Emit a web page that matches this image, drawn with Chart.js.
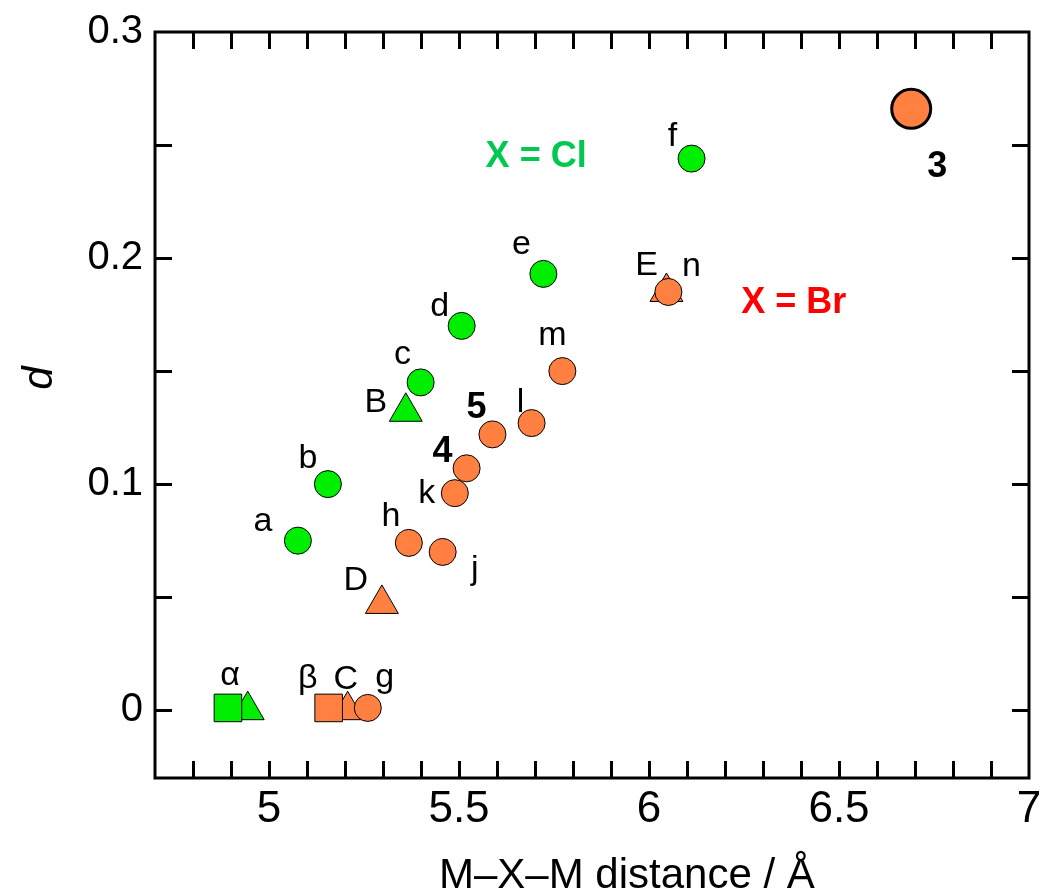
<!DOCTYPE html>
<html>
<head>
<meta charset="utf-8">
<script src="https://cdn.jsdelivr.net/npm/chart.js@4.4.1/dist/chart.umd.min.js"></script>
<style>
  html, body { margin: 0; padding: 0; background: #fff; }
  #wrap { width: 1040px; height: 892px; }
</style>
</head>
<body>
<div id="wrap"><canvas id="dChart" width="1040" height="892"></canvas></div>
<script>
// X = Cl compounds
const clCircleNames = ['a', 'b', 'c', 'd', 'e', 'f'];
const clCircleX = [5.076, 5.155, 5.399, 5.507, 5.722, 6.112];
const clCircleY = [0.075, 0.100, 0.145, 0.170, 0.193, 0.244];
const clTriangleNames = ['', 'B'];
const clTriangleX = [4.944, 5.360];
const clTriangleY = [0.000, 0.132];
const clSquareNames = ['α'];
const clSquareX = [4.892];
const clSquareY = [0.001];

// X = Br compounds
const brCircleNames = ['g', 'h', 'j', 'k', '4', '5', 'l', 'm', 'n'];
const brCircleX = [5.260, 5.368, 5.457, 5.489, 5.520, 5.588, 5.691, 5.772, 6.051];
const brCircleY = [0.001, 0.074, 0.070, 0.096, 0.107, 0.122, 0.127, 0.150, 0.185];
const brTriangleNames = ['C', 'D', 'E'];
const brTriangleX = [5.207, 5.297, 6.046];
const brTriangleY = [0.000, 0.047, 0.185];
const brSquareNames = ['β'];
const brSquareX = [5.157];
const brSquareY = [0.001];
const cmpd3Names = ['3'];
const cmpd3X = [6.690];
const cmpd3Y = [0.266];

// axis tick labels
const xTickLabels = ['5', '5.5', '6', '6.5', '7'];
const yTickLabels = ['0', '0.1', '0.2', '0.3'];

// free notes
const noteTexts = ['X = Cl', 'X = Br'];
const noteX = [5.703, 6.381];
const noteY = [0.2403, 0.1757];

// label layout: pixel offset of text baseline from the marker centre
const labelOffsets = {
    a: [-35, -10], b: [-20, -16], c: [-18, -18], d: [-22, -10], e: [-22, -20], f: [-19, -13],
    B: [-30, 0], 'α': [2, -23],
    g: [17, -21], h: [-18, -17], j: [32, 27], k: [-28, 10], '4': [-24, -6], '5': [-16, -16],
    l: [-11, -11], m: [-10, -26], n: [23, -16], C: [-2, -21], D: [-26, -14], E: [-20, -17],
    'β': [-21, -20], '3': [26, 68]
};
const boldLabels = ['3', '4', '5'];

const GREEN = '#00ee00';
const ORANGE = '#ff8040';
const FONT = "'Liberation Sans', Arial, sans-serif";

function pts(xs, ys) {
    return xs.map((x, i) => ({ x: x, y: ys[i] }));
}

function set(names, xs, ys, style, color, radius, bw) {
    return {
        names: names,
        data: pts(xs, ys),
        showLine: false,
        pointStyle: style,
        pointRadius: radius,
        pointHoverRadius: radius,
        pointBackgroundColor: color,
        pointBorderColor: '#000',
        pointBorderWidth: bw || 1,
        pointHoverBorderWidth: bw || 1
    };
}

// first dataset is drawn on top
const datasets = [
    set(cmpd3Names, cmpd3X, cmpd3Y, 'circle', ORANGE, 19.5, 3),
    set(brCircleNames, brCircleX, brCircleY, 'circle', ORANGE, 13.5),
    set(clCircleNames, clCircleX, clCircleY, 'circle', GREEN, 13.5),
    set(brSquareNames, brSquareX, brSquareY, 'rect', ORANGE, 19.5),
    set(clSquareNames, clSquareX, clSquareY, 'rect', GREEN, 19.5),
    set(brTriangleNames, brTriangleX, brTriangleY, 'triangle', ORANGE, 19),
    set(clTriangleNames, clTriangleX, clTriangleY, 'triangle', GREEN, 19)
];

function near(v, step) {
    return Math.abs(v / step - Math.round(v / step)) < 1e-6;
}

const framePlugin = {
    id: 'framePlugin',
    afterDatasetsDraw(chart) {
        const { ctx, chartArea: a, scales: { x, y } } = chart;
        ctx.save();

        // point labels
        ctx.fillStyle = '#000';
        ctx.textAlign = 'center';
        ctx.textBaseline = 'alphabetic';
        chart.data.datasets.forEach((ds, i) => {
            const meta = chart.getDatasetMeta(i);
            ds.names.forEach((name, j) => {
                if (!name) return;
                const el = meta.data[j];
                const off = labelOffsets[name] || [0, -20];
                const bold = boldLabels.includes(name);
                ctx.font = (bold ? 'bold 36px ' : '34px ') + FONT;
                ctx.fillText(name, el.x + off[0], el.y + off[1]);
            });
        });

        // notes
        ctx.font = 'bold 36px ' + FONT;
        noteTexts.forEach((t, i) => {
            ctx.fillStyle = i === 0 ? '#00c850' : '#ff0000';
            ctx.fillText(t, x.getPixelForValue(noteX[i]), y.getPixelForValue(noteY[i]));
        });

        // frame + inward ticks on all four sides
        ctx.strokeStyle = '#000';
        ctx.lineWidth = 3;
        ctx.strokeRect(a.left, a.top, a.right - a.left, a.bottom - a.top);
        const len = 17;
        ctx.beginPath();
        x.ticks.forEach(t => {
            if (!near(t.value, 0.1)) return;
            const px = Math.round(x.getPixelForValue(t.value)) + 0.5;
            if (px <= a.left + 2 || px >= a.right - 2) return;
            ctx.moveTo(px, a.bottom); ctx.lineTo(px, a.bottom - len);
            ctx.moveTo(px, a.top); ctx.lineTo(px, a.top + len);
        });
        y.ticks.forEach(t => {
            if (!near(t.value, 0.05)) return;
            const py = Math.round(y.getPixelForValue(t.value)) + 0.5;
            if (py <= a.top + 2 || py >= a.bottom - 2) return;
            ctx.moveTo(a.left, py); ctx.lineTo(a.left + len, py);
            ctx.moveTo(a.right, py); ctx.lineTo(a.right - len, py);
        });
        ctx.stroke();
        ctx.restore();
    },
    afterDraw(chart) {
        const ctx = chart.ctx;
        ctx.save();
        ctx.fillStyle = '#000';
        ctx.textBaseline = 'alphabetic';
        ctx.font = '42px ' + FONT;
        ctx.textAlign = 'left';
        ctx.fillText('M–X–M distance / Å', 439, 888);
        ctx.translate(52, 378);
        ctx.rotate(-Math.PI / 2);
        ctx.textAlign = 'center';
        ctx.font = 'italic 42px ' + FONT;
        ctx.fillText('d', 0, 0);
        ctx.restore();
    }
};

new Chart('dChart', {
    type: 'scatter',
    data: { datasets: datasets },
    options: {
        responsive: false,
        animation: false,
        events: [],
        layout: { autoPadding: false, padding: { top: 32, right: 11, left: 0, bottom: 0 } },
        plugins: {
            legend: { display: false },
            tooltip: { enabled: false }
        },
        scales: {
            x: {
                type: 'linear',
                min: 4.7,
                max: 7.0,
                grid: { display: false, drawTicks: false },
                border: { display: false },
                ticks: {
                    stepSize: 0.1,
                    autoSkip: false,
                    maxRotation: 0,
                    minRotation: 0,
                    padding: 5,
                    color: '#000',
                    font: { family: FONT, size: 44 },
                    callback: (v) => {
                        const s = String(+(+v).toFixed(2));
                        return xTickLabels.includes(s) ? s : '';
                    }
                },
                afterFit: (s) => {
                    s.height = 114;
                    s.paddingLeft = 0;
                    s.paddingRight = 0;
                }
            },
            y: {
                type: 'linear',
                min: -0.03,
                max: 0.3,
                grid: { display: false, drawTicks: false },
                border: { display: false },
                ticks: {
                    stepSize: 0.05,
                    autoSkip: false,
                    padding: 12,
                    color: '#000',
                    font: { family: FONT, size: 40 },
                    callback: (v) => {
                        const s = String(+(+v).toFixed(3));
                        return yTickLabels.includes(s) ? s : '';
                    }
                },
                afterFit: (s) => {
                    s.width = 155;
                    s.paddingTop = 0;
                    s.paddingBottom = 0;
                }
            }
        }
    },
    plugins: [framePlugin]
});
</script>
</body>
</html>
